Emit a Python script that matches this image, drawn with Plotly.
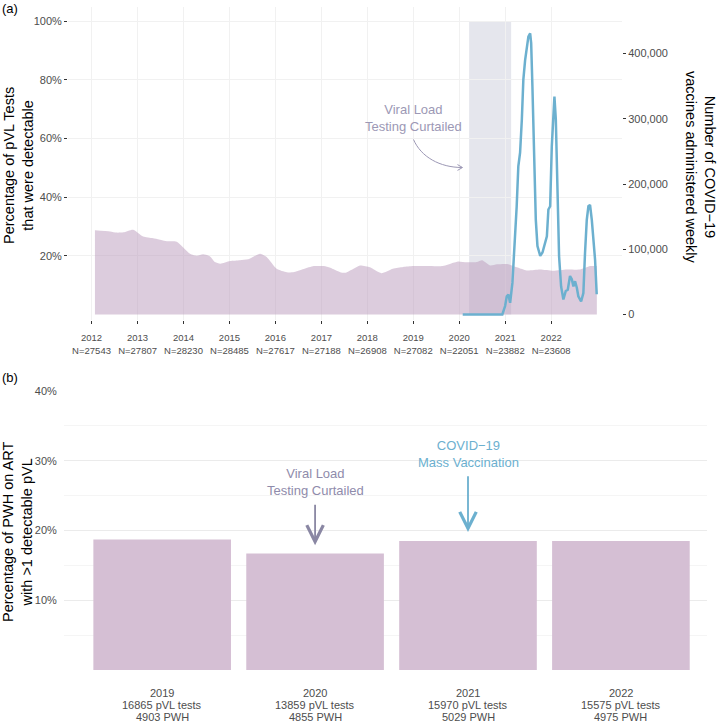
import plotly.graph_objects as go

W, H = 720, 722

# ---------------------------------------------------------------------------
# Data
# ---------------------------------------------------------------------------

# (a) percentage of pVL tests that were detectable
pvl_dates = [
    "2012-01-28", "2012-05-28", "2012-07-19", "2012-09-10", "2012-11-26",
    "2013-02-14", "2013-05-05", "2013-08-22", "2013-11-08", "2014-02-22",
    "2014-04-16", "2014-06-06", "2014-07-31", "2014-09-08", "2014-10-20",
    "2015-01-06", "2015-03-25", "2015-05-30", "2015-09-01", "2015-10-24",
    "2016-01-11", "2016-04-01", "2016-05-22", "2016-08-13", "2016-11-02",
    "2017-01-20", "2017-03-12", "2017-05-30", "2017-07-09", "2017-09-13",
    "2017-11-04", "2018-01-22", "2018-04-23", "2018-07-23", "2018-10-12",
    "2019-01-01", "2019-04-18", "2019-08-24", "2019-11-15", "2019-12-24",
    "2020-03-02", "2020-05-20", "2020-07-01", "2020-07-27", "2020-09-04",
    "2020-10-27", "2021-01-15", "2021-04-10", "2021-06-20", "2021-10-05",
    "2022-01-18", "2022-05-05", "2022-08-18", "2022-11-06", "2022-12-30",
]
pvl_pct = [
    28.7, 28.3, 27.9, 28.0, 28.9,
    26.6, 26.0, 25.0, 24.8, 20.7,
    20.0, 20.5, 19.8, 17.9, 17.3,
    18.2, 18.5, 18.8, 20.7, 19.6,
    15.6, 14.4, 14.4, 15.5, 16.5,
    16.5, 15.9, 14.4, 14.2, 15.6,
    16.7, 16.1, 14.1, 15.6, 16.2,
    16.5, 16.5, 16.5, 17.6, 18.1,
    17.8, 17.9, 18.5, 17.8, 16.7,
    17.1, 17.2, 16.0, 15.0, 15.3,
    14.9, 15.3, 15.3, 16.5, 16.5,
]

# (a) weekly COVID-19 vaccines administered
vax_dates = [
    "2020-01-29", "2020-12-09", "2020-12-31", "2021-01-13", "2021-01-26",
    "2021-02-09", "2021-02-27", "2021-03-14", "2021-04-02", "2021-04-15",
    "2021-04-29", "2021-05-13", "2021-05-25", "2021-06-08", "2021-06-22",
    "2021-07-04", "2021-07-18", "2021-07-26", "2021-08-05", "2021-08-19",
    "2021-09-01", "2021-09-14", "2021-10-06", "2021-10-24", "2021-11-14",
    "2021-11-28", "2021-12-10", "2021-12-24", "2022-01-06", "2022-01-19",
    "2022-01-27", "2022-02-07", "2022-02-20", "2022-03-05", "2022-03-21",
    "2022-04-08", "2022-04-27", "2022-05-13", "2022-05-31", "2022-06-14",
    "2022-06-27", "2022-07-10", "2022-07-24", "2022-08-05", "2022-08-27",
    "2022-09-14", "2022-09-27", "2022-10-11", "2022-10-24", "2022-11-06",
    "2022-11-20", "2022-12-02", "2022-12-16", "2022-12-29",
]
vax_weekly = [
    0, 0, 13000, 28000, 30500,
    18000, 48500, 94000, 166000, 227000,
    248000, 299000, 360000, 390000, 411000,
    426000, 431000, 416000, 350000, 248000,
    145000, 105000, 90000, 95000, 112000,
    120000, 161000, 166000, 258000, 319000,
    334000, 299000, 166000, 89000, 43000,
    23000, 36000, 38000, 59000, 54000,
    43000, 51000, 41000, 28000, 20000,
    33000, 94000, 145000, 166000, 168000,
    145000, 115000, 84000, 31000,
]

tick_years = [2012, 2013, 2014, 2015, 2016, 2017, 2018, 2019, 2020, 2021, 2022]
tests_per_year = [27543, 27807, 28230, 28485, 27617, 27188, 26908, 27082, 22051, 23882, 23608]
pct_ticks = [20, 40, 60, 80, 100]
vax_ticks = [0, 100000, 200000, 300000, 400000]

curtailed_start = "2020-03-20"
curtailed_end = "2021-02-17"

# (b) PWH on ART with >1 detectable pVL
bar_years = ["2019", "2020", "2021", "2022"]
bar_tests = [16865, 13859, 15970, 15575]
bar_pwh = [4903, 4855, 5029, 4975]
bar_pct = [18.7, 16.7, 18.5, 18.5]

# ---------------------------------------------------------------------------
# Style
# ---------------------------------------------------------------------------

FONT = "Liberation Sans"
AREA_FILL = "rgba(188,158,190,0.52)"
BAR_FILL = "#d5bfd4"
VAX_BLUE = "#6cb0cf"
SHADE = "#e5e6ed"
MAUVE_TEXT = "#9c98b5"
MAUVE_ARROW = "#8a87a3"
TICK_TEXT = "#4d4d4d"
GRID = "#f1f1f1"
VAX_SCALE = 4500  # 100% on the left axis == 450,000 vaccines


def X(px):
    return px / W


def Y(py):
    return 1 - py / H


fig = go.Figure()

fig.add_trace(go.Scatter(
    x=pvl_dates, y=pvl_pct, mode="lines", fill="tozeroy",
    line=dict(width=0, shape="spline", smoothing=0.6),
    fillcolor=AREA_FILL, hoverinfo="skip", xaxis="x", yaxis="y",
))
fig.add_trace(go.Scatter(
    x=vax_dates, y=vax_weekly, mode="lines",
    line=dict(color=VAX_BLUE, width=2.5),
    xaxis="x", yaxis="y2",
))
fig.add_trace(go.Bar(
    x=list(range(len(bar_years))), y=bar_pct, width=0.9,
    marker=dict(color=BAR_FILL, line=dict(width=0)),
    xaxis="x2", yaxis="y3",
))

fig.add_shape(
    type="rect", xref="x", yref="y",
    x0=curtailed_start, x1=curtailed_end, y0=0, y1=100,
    fillcolor=SHADE, line=dict(width=0), layer="below",
)

# curved arrow for panel (a)
curve = (
    f"M {X(413.5)},{Y(139.5)} "
    f"C {X(421)},{Y(157)} {X(440)},{Y(167.5)} {X(462)},{Y(167.5)} "
    f"M {X(457.5)},{Y(164.6)} L {X(462.5)},{Y(167.5)} L {X(457.5)},{Y(170.4)}"
)
fig.add_shape(type="path", xref="paper", yref="paper", path=curve,
              line=dict(color=MAUVE_TEXT, width=1))

year_ticks = [f"{y}-01-01" for y in tick_years]
year_text = [f"{y}<br>N={n}" for y, n in zip(tick_years, tests_per_year)]


def _title(text, px, py, angle):
    return dict(text=text, x=X(px), y=Y(py), xref="paper", yref="paper",
                xanchor="center", yanchor="middle", textangle=angle,
                showarrow=False, font=dict(size=14.5, color="#000"))


annotations = [
    dict(text="(a)", x=0, y=Y(8), xref="paper", yref="paper", xanchor="left",
         yanchor="middle", showarrow=False, font=dict(size=13, color="#000")),
    dict(text="(b)", x=0, y=Y(377), xref="paper", yref="paper", xanchor="left",
         yanchor="middle", showarrow=False, font=dict(size=13, color="#000")),
    _title("Percentage of pVL Tests<br>that were detectable", 18, 166, -90),
    _title("Number of COVID\u221219<br>vaccines administered weekly", 701, 167, 90),
    _title("Percentage of PWH on ART<br>with >1 detectable pVL", 17, 532, -90),
    dict(text="Viral Load<br>Testing Curtailed", x="2019-01-01", y=66.9, xref="x", yref="y",
         showarrow=False, font=dict(size=13, color=MAUVE_TEXT)),
    # panel (b) arrows and labels
    dict(text="", x=1, y=17.9, ax=1, ay=23.9, xref="x2", yref="y3", axref="x2", ayref="y3",
         showarrow=True, arrowhead=5, arrowsize=1.8, arrowwidth=1.8, arrowcolor=MAUVE_ARROW),
    dict(text="Viral Load<br>Testing Curtailed", x=1, y=27.0, xref="x2", yref="y3",
         showarrow=False, font=dict(size=13, color="#8f8bab")),
    dict(text="", x=2, y=19.8, ax=2, ay=28.0, xref="x2", yref="y3", axref="x2", ayref="y3",
         showarrow=True, arrowhead=5, arrowsize=1.8, arrowwidth=1.8, arrowcolor=VAX_BLUE),
    dict(text="COVID\u221219<br>Mass Vaccination", x=2, y=31.0, xref="x2", yref="y3",
         showarrow=False, font=dict(size=13, color=VAX_BLUE)),
]

# bar labels, one line at a time so the spacing stays tight
for i, (yr, tests, pwh) in enumerate(zip(bar_years, bar_tests, bar_pwh)):
    for line, py in zip([yr, f"{tests} pVL tests", f"{pwh} PWH"], [692.5, 705, 717.3]):
        annotations.append(dict(
            text=line, x=i, xref="x2", y=Y(py), yref="paper",
            xanchor="center", yanchor="middle", showarrow=False,
            font=dict(size=11, color=TICK_TEXT),
        ))

fig.update_layout(
    width=W, height=H, autosize=False,
    margin=dict(l=0, r=0, t=0, b=0),
    paper_bgcolor="white", plot_bgcolor="white",
    font=dict(family=FONT, color=TICK_TEXT),
    showlegend=False,
    annotations=annotations,
    xaxis=dict(
        type="date", domain=[X(68), X(622)], anchor="y", automargin=False,
        range=["2011-06-28", "2023-07-18"],
        tickvals=year_ticks, ticktext=year_text,
        tickfont=dict(size=9.5, color=TICK_TEXT),
        ticks="outside", ticklen=3, tickcolor="#333", tickwidth=1,
        ticklabelstandoff=6,
        showgrid=True, gridcolor=GRID, zeroline=False, showline=False,
    ),
    yaxis=dict(
        domain=[Y(320), Y(7)], anchor="x", automargin=False,
        range=[-1.87, 104.77],
        tickvals=pct_ticks, ticktext=[f"{v}%" for v in pct_ticks],
        tickfont=dict(size=11, color=TICK_TEXT),
        ticks="outside", ticklen=3, tickcolor="#333", tickwidth=1,
        showgrid=True, gridcolor=GRID, zeroline=False, showline=False,
    ),
    yaxis2=dict(
        overlaying="y", side="right", anchor="x", automargin=False,
        range=[-1.87 * VAX_SCALE, 104.77 * VAX_SCALE],
        tickvals=vax_ticks, ticktext=[f"{v:,}" for v in vax_ticks],
        tickfont=dict(size=11, color=TICK_TEXT),
        ticks="outside", ticklen=3, tickcolor="#333", tickwidth=1,
        showgrid=False, zeroline=False, showline=False,
    ),
    xaxis2=dict(
        domain=[X(64), X(707)], anchor="y3", automargin=False,
        range=[-0.642, 3.563], showticklabels=False, ticks="",
        showgrid=False, zeroline=False, showline=False,
    ),
    yaxis3=dict(
        domain=[Y(670.7), Y(390.3)], anchor="x2", automargin=False,
        range=[-0.1, 40.1],
        tickvals=[0, 10, 20, 30, 40], ticktext=["", "10%", "20%", "30%", "40%"],
        tickfont=dict(size=11, color=TICK_TEXT),
        ticks="outside", ticklen=4, tickcolor="rgba(0,0,0,0)",
        showgrid=True, gridcolor="#ebebeb", gridwidth=1, zeroline=False, showline=False,
        minor=dict(tickvals=[5, 15, 25, 35], showgrid=True, gridcolor="#f5f5f5", ticks=""),
    ),
)

# the page's default body margin would push the 720x722 figure off-screen
fig.write_html(
    "out.html",
    config={"displayModeBar": False},
    post_script="document.body.style.margin = '0';",
)
